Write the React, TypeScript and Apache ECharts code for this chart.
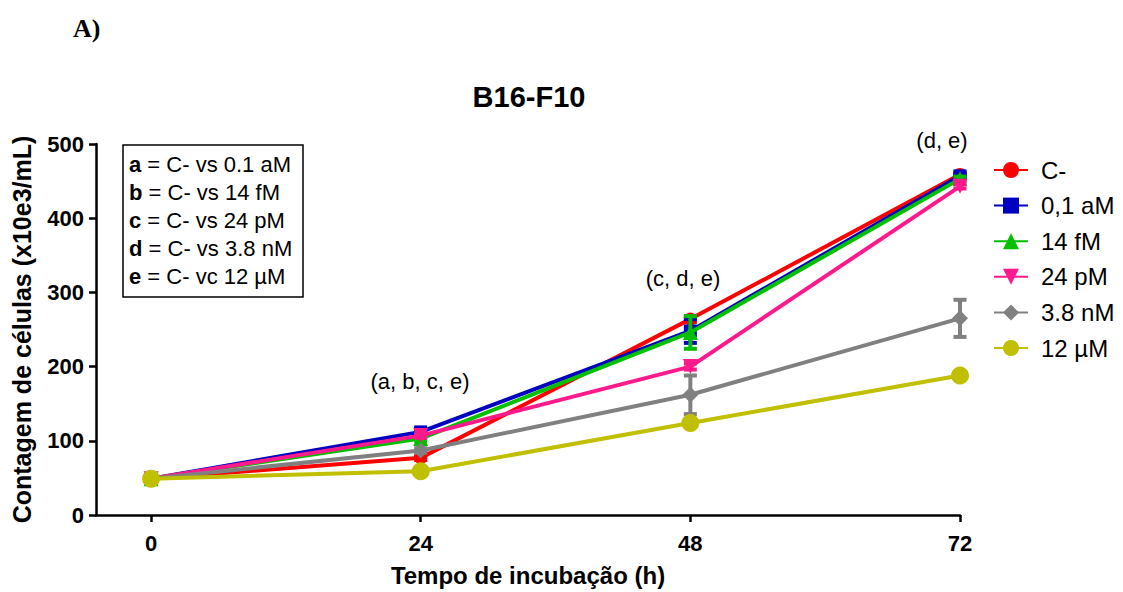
import React, { useEffect, useRef } from "react";
import * as echarts from "echarts";

const hours = [0, 24, 48, 72];
const seriesNames = ["C-", "0,1 aM", "14 fM", "24 pM", "3.8 nM", "12 µM"];
const valsC = [49, 77, 264, 459];
const vals01aM = [49, 112, 248, 457];
const vals14fM = [49, 103, 246, 453];
const vals24pM = [49, 107, 200, 443];
const vals38nM = [49, 87, 162, 265];
const vals12uM = [49, 59, 124, 188];
const errC = [0, 3, 4, 3];
const err01aM = [0, 4, 16, 3];
const err14fM = [0, 3, 22, 3];
const err24pM = [0, 3, 4, 3];
const err38nM = [0, 3, 26, 25];
const err12uM = [0, 2, 3, 3];
const xTicks = [0, 24, 48, 72];
const annotations = ["(a, b, c, e)", "(c, d, e)", "(d, e)"];
const insetLetters = ["a", "b", "c", "d", "e"];
const insetTexts = ["C- vs 0.1 aM", "C- vs 14 fM", "C- vs 24 pM", "C- vs 3.8 nM", "C- vc 12 µM"];

const FONT = "'Liberation Sans', Arial, Helvetica, sans-serif";

export default function App() {
  const ref = useRef<HTMLDivElement>(null);
  useEffect(() => {
    if (!ref.current) return;
    const chart = echarts.init(ref.current, undefined, { renderer: "svg" });
    const allVals = [valsC, vals01aM, vals14fM, vals24pM, vals38nM, vals12uM];
    const allErr = [errC, err01aM, err14fM, err24pM, err38nM, err12uM];
    const colors = ["#ff0000", "#0000c0", "#00c000", "#ff1a8c", "#808080", "#c0c000"];
    const symbols = ["circle", "rect", "triangle", "triangle", "diamond", "circle"];
    const symbolSizes = [13, 13, 15, 15, 16, 18];
    const rotates = [0, 0, 0, 180, 0, 0];

    const series: any[] = [];
    allVals.forEach((vals, i) => {
      series.push({
        type: "custom",
        name: seriesNames[i] + " err",
        z: 2 + i,
        silent: true,
        data: hours.map((h, k) => [h, vals[k] - allErr[i][k], vals[k] + allErr[i][k]]),
        encode: { x: 0, y: [1, 2] },
        renderItem: (params: any, api: any) => {
          const x = api.value(0);
          const lo = api.coord([x, api.value(1)]);
          const hi = api.coord([x, api.value(2)]);
          const hw = 6.5;
          const st = { stroke: colors[i], lineWidth: 4 };
          return {
            type: "group",
            children: [
              { type: "line", shape: { x1: lo[0], y1: lo[1], x2: hi[0], y2: hi[1] }, style: st },
              { type: "line", shape: { x1: lo[0] - hw, y1: lo[1], x2: lo[0] + hw, y2: lo[1] }, style: st },
              { type: "line", shape: { x1: hi[0] - hw, y1: hi[1], x2: hi[0] + hw, y2: hi[1] }, style: st },
            ],
          };
        },
      });
      series.push({
        type: "line",
        name: seriesNames[i],
        z: 2 + i,
        data: hours.map((h, k) => [h, vals[k]]),
        symbol: symbols[i],
        symbolSize: symbolSizes[i],
        symbolRotate: rotates[i],
        showAllSymbol: true,
        lineStyle: { color: colors[i], width: 4 },
        itemStyle: { color: colors[i] },
      });
    });

    const annPos = [
      [420, 381],
      [683, 278],
      [942, 140],
    ];

    const option: any = {
      animation: false,
      backgroundColor: "#ffffff",
      textStyle: { fontFamily: FONT },
      grid: { left: 96, right: 163, top: 144, bottom: 75, containLabel: false },
      xAxis: {
        type: "value",
        min: -4.9,
        max: 72,
        name: "Tempo de incubação (h)",
        nameLocation: "middle",
        nameGap: 48,
        nameTextStyle: { fontFamily: FONT, fontWeight: "bold", fontSize: 24, color: "#000" },
        axisLine: { lineStyle: { color: "#000", width: 2.5 } },
        axisTick: { show: true, customValues: xTicks, length: 7, lineStyle: { color: "#000", width: 2.5 } },
        axisLabel: { customValues: xTicks, margin: 17, fontFamily: FONT, fontWeight: "bold", fontSize: 22, color: "#000" },
        splitLine: { show: false },
      },
      yAxis: {
        type: "value",
        min: 0,
        max: 500,
        interval: 100,
        name: "Contagem de células (x10e3/mL)",
        nameLocation: "middle",
        nameGap: 62,
        nameTextStyle: { fontFamily: FONT, fontWeight: "bold", fontSize: 25, color: "#000" },
        axisLine: { show: true, onZero: false, lineStyle: { color: "#000", width: 2.5 } },
        axisTick: { show: true, length: 7, lineStyle: { color: "#000", width: 2.5 } },
        axisLabel: { margin: 12, fontFamily: FONT, fontWeight: "bold", fontSize: 22, color: "#000" },
        splitLine: { show: false },
      },
      legend: {
        orient: "vertical",
        left: 988,
        top: 153,
        data: seriesNames,
        itemWidth: 34,
        itemHeight: 20,
        itemGap: 11.6,
        textStyle: { fontFamily: FONT, fontSize: 24, color: "#000", lineHeight: 24, padding: [0, 0, 0, 8] },
      },
      graphic: [
        {
          type: "text",
          left: 73,
          top: 15,
          style: { text: "A)", font: "bold 26px 'Liberation Serif', 'Times New Roman', serif", fill: "#000" },
        },
        {
          type: "text",
          x: 529,
          y: 97,
          style: {
            text: "B16-F10",
            font: `bold 29px ${FONT}`,
            fill: "#000",
            align: "center",
            verticalAlign: "middle",
          },
        },
        {
          type: "rect",
          shape: { x: 123, y: 145, width: 180, height: 152 },
          style: { fill: "#fff", stroke: "#000", lineWidth: 1.5 },
          z: 10,
        },
        ...insetLetters.map((l, k) => ({
          type: "text",
          x: 129,
          y: 164 + k * 28,
          z: 11,
          style: {
            text: `{b|${l}} = ${insetTexts[k]}`,
            font: `22px ${FONT}`,
            fill: "#000",
            verticalAlign: "middle",
            rich: { b: { fontWeight: "bold", fontSize: 22, fontFamily: FONT, fill: "#000" } },
          },
        })),
        ...annotations.map((t, k) => ({
          type: "text",
          x: annPos[k][0],
          y: annPos[k][1],
          z: 11,
          style: { text: t, font: `22px ${FONT}`, fill: "#000", align: "center", verticalAlign: "middle" },
        })),
      ],
      series,
    };
    chart.setOption(option);
    return () => chart.dispose();
  }, []);
  return <div ref={ref} style={{ position: "fixed", left: 0, top: 0, width: 1123, height: 592, background: "#fff" }} />;
}
